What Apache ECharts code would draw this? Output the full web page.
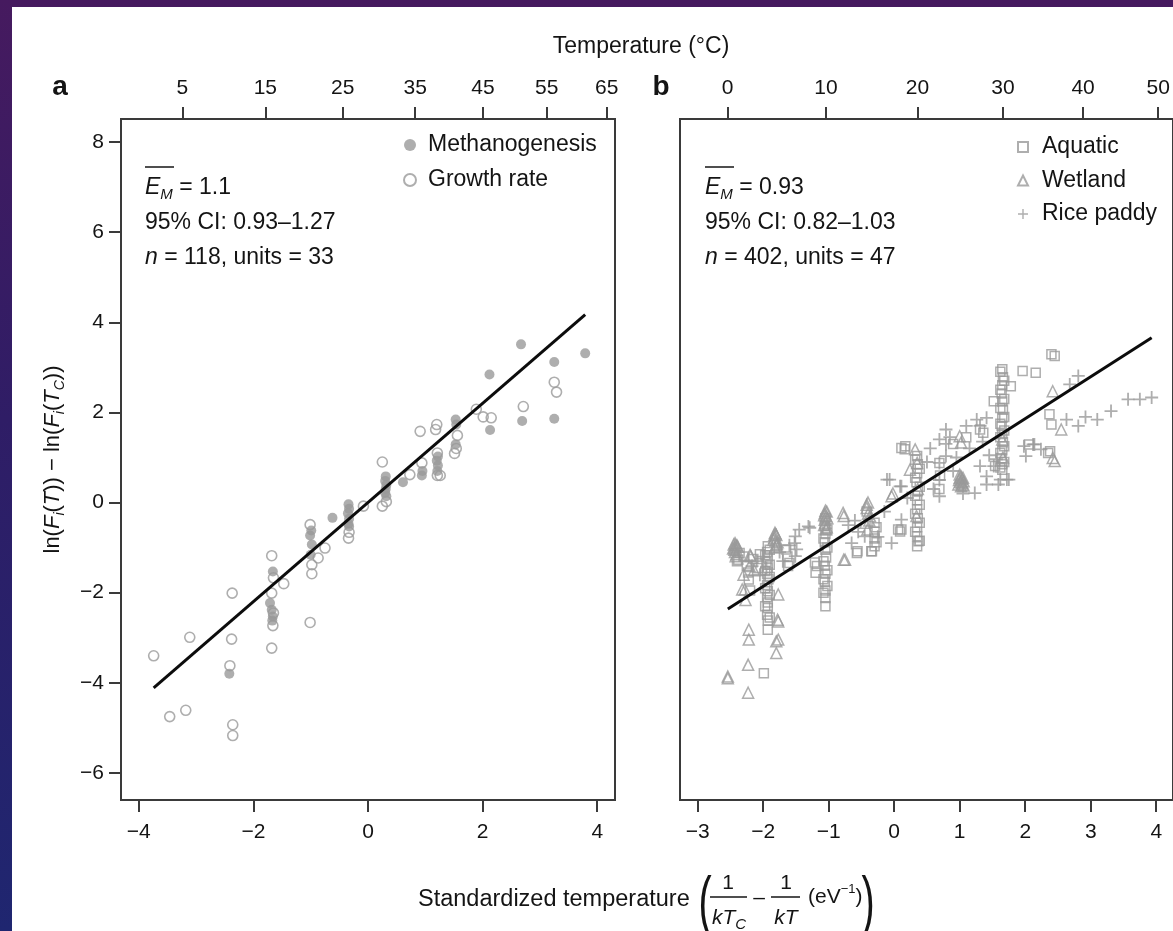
<!DOCTYPE html>
<html><head><meta charset="utf-8">
<script src="https://cdn.jsdelivr.net/npm/echarts@6/dist/echarts.min.js"></script>
<style>
html,body{margin:0;padding:0;width:1173px;height:931px;overflow:hidden;
background:linear-gradient(180deg,#461a5f 0%,#2f1d66 45%,#1f2670 100%);}
#paper{position:absolute;left:12px;top:7px;width:1161px;height:924px;background:#fff;}
#chart{position:absolute;left:0;top:0;width:1173px;height:931px;}
</style></head><body><div id="paper"></div><div id="chart"></div>
<script>
// ---------- data ----------
const tempTicksA = [5, 15, 25, 35, 45, 55, 65];      // °C, top axis panel a
const tempTicksB = [0, 10, 20, 30, 40, 50];          // °C, top axis panel b
const stdTicksA = [-4, -2, 0, 2, 4];
const stdTicksB = [-3, -2, -1, 0, 1, 2, 3, 4];
const yTicks = [-6, -4, -2, 0, 2, 4, 6, 8];
const TcA = 301.56, TcB = 290.54;                    // reference temperatures (K)
const fitA = [1.10, 0.00], fitSpanA = [-3.74, 3.79]; // slope, intercept ; x-span
const fitB = [0.93, 0.00], fitSpanB = [-2.54, 3.93];

const methanogenesis = [
[-2.42,-3.80],
[-1.66,-1.53],[-1.68,-2.38],[-1.66,-2.53],[-1.71,-2.23],[-1.67,-2.62],
[-1.01,-0.73],[-0.98,-0.93],[-1.00,-1.16],[-0.99,-0.62],
[-0.62,-0.34],
[-0.34,-0.04],[-0.33,-0.14],[-0.35,-0.24],[-0.33,-0.36],[-0.34,-0.47],[-0.33,-0.53],
[0.31,0.58],[0.30,0.48],[0.32,0.39],[0.31,0.30],[0.30,0.22],[0.32,0.14],
[0.61,0.45],[0.94,0.60],[0.95,0.70],
[1.21,0.70],[1.22,0.82],[1.20,0.93],[1.22,1.02],
[1.53,1.84],[1.54,1.73],[1.53,1.29],
[2.12,2.84],[2.13,1.61],
[2.67,3.51],[2.69,1.81],
[3.25,3.12],[3.25,1.86],
[3.79,3.31]
];
const growthRate = [
[-3.74,-3.40],[-3.46,-4.75],[-3.18,-4.61],[-3.11,-2.99],
[-2.37,-2.01],[-2.38,-3.03],[-2.41,-3.62],[-2.36,-4.93],[-2.36,-5.17],
[-1.68,-1.18],[-1.65,-1.67],[-1.47,-1.80],[-1.68,-2.01],[-1.66,-2.73],[-1.68,-3.23],[-1.65,-2.45],
[-1.01,-0.49],[-0.75,-1.01],[-0.87,-1.23],[-0.98,-1.38],[-0.98,-1.58],[-1.01,-2.66],
[-0.34,-0.79],[-0.33,-0.66],[-0.08,-0.08],
[0.25,0.90],[0.25,-0.08],[0.32,0.02],
[0.73,0.62],[0.94,0.88],[0.91,1.58],[1.20,1.73],[1.18,1.62],[1.26,0.60],[1.21,1.10],[1.21,0.60],
[1.56,1.49],[1.51,1.09],[1.54,1.20],
[1.89,2.07],[2.01,1.90],[2.15,1.88],
[2.71,2.13],[3.25,2.67],[3.29,2.45]
];
const aquatic = [
[-2.40,-1.30],[-2.38,-1.27],[-2.36,-1.12],[-2.22,-1.71],[-2.23,-1.55],[-2.20,-1.95],[-2.15,-1.25],
[-2.30,-1.20],[-2.25,-1.40],[-2.05,-1.15],[-2.08,-1.45],
[-1.93,-0.97],[-1.94,-1.10],[-1.93,-1.22],[-1.95,-1.32],[-1.93,-1.45],[-1.94,-1.58],[-1.92,-1.70],[-1.94,-1.83],[-1.93,-1.97],[-1.94,-2.10],[-1.93,-2.22],[-1.93,-2.34],[-1.94,-2.49],[-1.93,-2.62],[-1.93,-2.82],
[-1.90,-1.05],[-1.97,-1.17],[-1.90,-1.38],[-1.97,-1.52],[-1.90,-1.65],[-1.97,-1.90],[-1.90,-2.05],[-1.97,-2.30],[-1.90,-2.55],
[-1.99,-3.79],
[-1.65,-1.04],[-1.60,-1.34],[-1.63,-1.20],[-1.62,-1.41],
[-1.21,-1.33],[-1.18,-1.41],[-1.20,-1.56],
[-1.05,-0.35],[-1.06,-0.52],[-1.05,-0.70],[-1.06,-0.88],[-1.05,-1.05],[-1.04,-1.22],[-1.06,-1.40],[-1.05,-1.58],[-1.06,-1.76],[-1.05,-1.95],[-1.05,-2.12],[-1.05,-2.30],
[-1.02,-0.60],[-1.08,-0.80],[-1.02,-1.00],[-1.08,-1.30],[-1.02,-1.50],[-1.08,-1.70],[-1.02,-1.85],[-1.08,-2.00],
[-0.57,-1.12],[-0.56,-1.08],[-0.35,-1.08],[-0.34,-1.08],[-0.42,-0.20],[-0.30,-0.45],[-0.30,-0.65],[-0.30,-0.80],[-0.30,-0.97],[-0.27,-0.55],[-0.27,-0.88],
[0.06,-0.60],[0.11,-0.60],[0.09,-0.64],[0.37,-0.86],[0.11,1.21],[0.17,1.25],[0.16,1.18],
[0.35,1.03],[0.36,0.85],[0.35,0.65],[0.34,0.45],[0.36,0.25],[0.35,0.05],[0.35,-0.15],[0.36,-0.35],[0.35,-0.55],[0.35,-0.75],[0.35,-0.97],
[0.32,0.95],[0.39,0.75],[0.32,0.55],[0.39,0.35],[0.32,0.15],[0.39,-0.05],[0.32,-0.25],[0.39,-0.45],[0.32,-0.65],[0.39,-0.85],
[0.69,0.88],[0.70,0.60],[0.69,0.30],[0.90,1.30],[1.10,1.45],[1.31,1.62],[1.36,1.55],
[1.65,2.96],[1.66,2.78],[1.65,2.60],[1.64,2.42],[1.65,2.24],[1.66,2.06],[1.65,1.88],[1.64,1.70],[1.65,1.52],[1.66,1.34],[1.65,1.16],[1.64,0.98],[1.65,0.85],[1.65,0.73],
[1.62,2.90],[1.68,2.70],[1.62,2.50],[1.68,2.30],[1.62,2.10],[1.68,1.90],[1.62,1.75],[1.68,1.60],[1.62,1.45],[1.68,1.25],[1.62,1.10],[1.68,0.90],[1.62,0.78],
[1.52,2.25],[1.54,0.81],[1.78,2.58],
[1.96,2.92],[2.16,2.88],[2.40,3.29],[2.45,3.25],[2.37,1.96],[2.40,1.73],[2.06,1.29],[2.35,1.10],[2.38,1.14]
];
const wetland = [
[-2.43,-0.90],[-2.42,-0.95],[-2.44,-1.00],[-2.41,-1.04],[-2.43,-1.10],[-2.42,-1.19],[-2.45,-0.93],
[-2.40,-0.95],[-2.44,-1.05],[-2.41,-1.15],[-2.39,-0.98],[-2.46,-1.02],
[-2.20,-1.16],[-2.19,-1.19],[-2.21,-1.41],[-2.28,-1.93],[-2.32,-1.93],[-2.27,-2.16],[-2.30,-1.60],[-2.14,-1.50],
[-2.22,-2.82],[-2.22,-3.04],[-2.23,-3.60],[-2.23,-4.22],[-2.54,-3.86],[-2.54,-3.90],
[-1.77,-2.04],[-1.78,-2.60],[-1.77,-2.64],[-1.80,-3.08],[-1.80,-3.34],[-1.77,-3.04],
[-1.82,-0.67],[-1.80,-0.72],[-1.83,-0.78],[-1.81,-0.85],[-1.79,-0.92],[-1.82,-1.00],
[-1.81,-0.70],[-1.84,-0.82],[-1.78,-0.88],[-1.80,-0.95],[-1.83,-0.72],
[-1.05,-0.18],[-1.06,-0.24],[-1.04,-0.30],[-1.06,-0.38],[-1.05,-0.45],[-1.04,-0.60],
[-1.03,-0.20],[-1.07,-0.28],[-1.02,-0.35],[-1.07,-0.50],[-1.03,-0.55],
[-0.78,-0.23],[-0.77,-0.30],[-0.75,-1.27],[-0.77,-1.27],
[-0.40,0.00],[-0.42,-0.12],[-0.40,-0.25],[-0.38,-0.40],[-0.41,-0.60],[-0.42,-0.05],[-0.37,-0.30],[-0.44,-0.45],
[-0.04,0.14],[-0.02,0.20],
[0.24,0.73],[0.32,1.18],[0.35,0.88],[0.36,0.30],[0.34,-0.30],
[1.02,0.58],[1.03,0.52],[1.01,0.46],[1.04,0.40],[1.02,0.36],[0.99,0.50],[1.06,0.47],
[1.00,0.55],[1.05,0.55],[1.03,0.44],[0.98,0.40],[1.06,0.38],[1.00,0.62],
[1.00,1.47],[1.02,1.33],[1.65,1.40],[1.66,1.00],
[2.42,2.47],[2.55,1.62],[2.42,0.99],[2.45,0.92]
];
const ricePaddy = [
[-2.17,-1.41],[-2.10,-1.30],[-2.05,-1.60],[-2.00,-1.20],[-1.95,-1.45],[-1.75,-1.10],[-1.70,-1.30],
[-1.51,-0.75],[-1.52,-0.90],[-1.49,-1.04],[-1.51,-1.19],[-1.31,-0.53],[-1.29,-0.56],[-1.45,-0.60],[-1.60,-0.95],
[-0.60,-0.40],[-0.55,-0.65],[-0.65,-0.90],[-0.45,-0.75],[-0.70,-0.50],
[-0.11,0.51],[-0.07,0.51],[0.09,0.36],[0.11,0.36],[-0.04,-0.90],[0.11,-0.38],[-0.25,-0.76],[-0.15,-0.20],[0.20,0.10],
[0.69,1.40],[0.79,1.62],[0.79,1.30],[0.79,1.03],[0.69,0.88],[0.69,0.50],[0.69,0.14],
[0.50,0.90],[0.55,1.20],[0.60,0.30],[0.85,1.45],[0.90,0.70],[0.95,1.00],
[1.10,1.70],[1.31,1.70],[1.41,1.88],[1.26,1.84],[1.15,1.20],[1.35,1.35],[1.45,1.05],
[1.23,0.21],[1.41,0.40],[1.59,0.40],[1.72,0.51],[1.31,0.81],[1.41,0.58],[1.52,0.81],[1.62,0.51],[1.75,0.51],[1.56,0.96],[1.05,0.20],
[1.98,1.25],[2.14,1.29],[2.24,1.18],[2.01,1.03],[2.12,1.29],
[2.68,2.62],[2.81,2.81],
[2.63,1.84],[2.81,1.70],[2.92,1.90],[3.10,1.84],[3.31,2.03],[3.57,2.29],[3.75,2.29],[3.93,2.33]
];

// ---------- helpers ----------
const FONT = '"Liberation Sans", Arial, Helvetica, sans-serif';
const INK = '#141414';
const AXIS = '#3a3a3a';
const PT = '#9a9a9a';
const kB = 8.617e-5;
const toStd = (tC, Tc) => 1 / (kB * Tc) - 1 / (kB * (tC + 273.15));
const minus = v => (v < 0 ? '\u2212' + Math.abs(v) : String(v));
const nearestTemp = (ticks, Tc) => v => {
  let best = ticks[0];
  ticks.forEach(t => { if (Math.abs(toStd(t, Tc) - v) < Math.abs(toStd(best, Tc) - v)) best = t; });
  return String(best);
};
const fitLine = (fit, span) => span.map(x => [x, fit[0] * x + fit[1]]);
const PLUS = 'path://M4.3,0H5.7V4.3H10V5.7H5.7V10H4.3V5.7H0V4.3H4.3Z';

const tickStyle = { length: 12, lineStyle: { color: AXIS, width: 2 } };
const labelBase = { fontSize: 21, fontFamily: FONT, color: INK };

function xAx(grid, pos, range, vals, fmt, margin) {
  return {
    gridIndex: grid, type: 'value', position: pos, min: range[0], max: range[1],
    axisLine: { show: false, onZero: false }, splitLine: { show: false },
    axisTick: Object.assign({ customValues: vals }, tickStyle),
    axisLabel: Object.assign({ customValues: vals, formatter: fmt, margin: margin }, labelBase)
  };
}
const rangeA = [-4.31, 4.31], rangeB = [-3.27, 4.256], rangeY = [-6.6, 8.51];

const richT = (sz) => ({
  n: { fontSize: sz, fontFamily: FONT, fill: INK, lineHeight: 28 },
  i: { fontSize: sz, fontFamily: FONT, fill: INK, fontStyle: 'italic', lineHeight: 28 },
  s: { fontSize: 15, fontFamily: FONT, fill: INK, fontStyle: 'italic', lineHeight: 14, verticalAlign: 'bottom' },
  u: { fontSize: 13, fontFamily: FONT, fill: INK, lineHeight: 12, verticalAlign: 'top' }
});
const txt = (x, y, text, opts, extra) => Object.assign({
  type: 'text', x: x, y: y, silent: true,
  style: Object.assign({ text: text, fontSize: 23, fontFamily: FONT, fill: INK, align: 'left', verticalAlign: 'middle', rich: richT(23) }, opts || {})
}, extra || {});
const ln = (x1, y1, x2, y2, w) => ({ type: 'line', silent: true, shape: { x1, y1, x2, y2 }, style: { stroke: INK, lineWidth: w || 1.5 } });

const graphics = [
  txt(60, 87, 'a', { fontSize: 28, fontWeight: 'bold', align: 'center' }),
  txt(661, 87, 'b', { fontSize: 28, fontWeight: 'bold', align: 'center' }),
  txt(641, 47, 'Temperature (°C)', { fontSize: 23, align: 'center' }),
  // panel a annotation
  txt(145, 188, '{i|E}{s|M}{n| = 1.1}'),
  ln(145, 167, 174, 167),
  txt(145, 223, '95% CI: 0.93\u20131.27'),
  txt(145, 258, '{i|n}{n| = 118, units = 33}'),
  // panel b annotation
  txt(705, 188, '{i|E}{s|M}{n| = 0.93}'),
  ln(705, 167, 734, 167),
  txt(705, 223, '95% CI: 0.82\u20131.03'),
  txt(705, 258, '{i|n}{n| = 402, units = 47}'),
  // bottom title
  txt(418, 900, 'Standardized temperature', { fontSize: 23.5 }),
  txt(705, 905, '(', { fontSize: 66, align: 'center' }, { scaleX: 0.6 }),
  txt(728, 883, '1', { fontSize: 21, align: 'center' }),
  ln(710, 897, 747, 897),
  txt(729, 918, '{i|kT}{s|C}', { fontSize: 21, align: 'center', rich: richT(21) }),
  txt(759, 898, '\u2013', { fontSize: 21, align: 'center' }),
  txt(786, 883, '1', { fontSize: 21, align: 'center' }),
  ln(771, 897, 800, 897),
  txt(786, 918, '{i|kT}', { fontSize: 21, align: 'center', rich: richT(21) }),
  txt(808, 897, '{n|(eV}{u|\u22121}{n|)}', { fontSize: 21, rich: richT(21) }),
  txt(868, 905, ')', { fontSize: 66, align: 'center' }, { scaleX: 0.6 })
];

const option = {
  animation: false,
  backgroundColor: 'transparent',
  textStyle: { fontFamily: FONT },
  grid: [
    { left: 121, top: 119, width: 494, height: 681, show: true, borderColor: AXIS, borderWidth: 2, backgroundColor: 'transparent' },
    { left: 680, top: 119, width: 493, height: 681, show: true, borderColor: AXIS, borderWidth: 2, backgroundColor: 'transparent' }
  ],
  xAxis: [
    xAx(0, 'bottom', rangeA, stdTicksA, minus, 22),
    xAx(0, 'top', rangeA, tempTicksA.map(t => toStd(t, TcA)), nearestTemp(tempTicksA, TcA), 20),
    xAx(1, 'bottom', rangeB, stdTicksB, minus, 22),
    xAx(1, 'top', rangeB, tempTicksB.map(t => toStd(t, TcB)), nearestTemp(tempTicksB, TcB), 20)
  ],
  yAxis: [
    {
      gridIndex: 0, type: 'value', position: 'left', min: rangeY[0], max: rangeY[1],
      axisLine: { show: false, onZero: false }, splitLine: { show: false },
      axisTick: Object.assign({ customValues: yTicks }, tickStyle),
      axisLabel: Object.assign({ customValues: yTicks, formatter: minus, margin: 17 }, labelBase),
      name: '{n|ln(}{i|F}{s|i}{n|(}{i|T}{n|)) \u2212 ln(}{i|F}{s|i}{n|(}{i|T}{s|C}{n|))}',
      nameLocation: 'middle', nameRotate: 90, nameGap: 54,
      nameTextStyle: {
        fontSize: 22, fontFamily: FONT, color: INK,
        rich: {
          n: { fontSize: 22, fontFamily: FONT, color: INK, lineHeight: 28 },
          i: { fontSize: 22, fontFamily: FONT, color: INK, fontStyle: 'italic', lineHeight: 28 },
          s: { fontSize: 14, fontFamily: FONT, color: INK, fontStyle: 'italic', lineHeight: 14, verticalAlign: 'bottom' }
        }
      }
    },
    {
      gridIndex: 1, type: 'value', position: 'left', min: rangeY[0], max: rangeY[1],
      axisLine: { show: false, onZero: false }, splitLine: { show: false },
      axisTick: { show: false }, axisLabel: { show: false }
    }
  ],
  legend: [
    {
      data: ['Methanogenesis', 'Growth rate'], orient: 'vertical', left: 398, top: 127,
      itemWidth: 12, itemHeight: 12, itemGap: 9, selectedMode: false,
      textStyle: { fontSize: 23, fontFamily: FONT, color: INK, lineHeight: 26, padding: [0, 0, 0, 7] }
    },
    {
      data: ['Aquatic', 'Wetland', 'Rice paddy'], orient: 'vertical', left: 1012, top: 129,
      itemWidth: 10, itemHeight: 10, itemGap: 7.5, selectedMode: false,
      textStyle: { fontSize: 23, fontFamily: FONT, color: INK, lineHeight: 26, padding: [0, 0, 0, 9] }
    }
  ],
  series: [
    { type: 'scatter', name: 'Methanogenesis', xAxisIndex: 0, yAxisIndex: 0, data: methanogenesis,
      symbol: 'circle', symbolSize: 10, itemStyle: { color: PT }, silent: true, z: 3 },
    { type: 'scatter', name: 'Growth rate', xAxisIndex: 0, yAxisIndex: 0, data: growthRate,
      symbol: 'circle', symbolSize: 10, itemStyle: { color: 'rgba(255,255,255,0)', borderColor: PT, borderWidth: 1.6 }, silent: true, z: 3 },
    { type: 'line', xAxisIndex: 0, yAxisIndex: 0, data: fitLine(fitA, fitSpanA), symbol: 'none',
      lineStyle: { color: '#0c0c0c', width: 3 }, silent: true, z: 5 },
    { type: 'scatter', name: 'Aquatic', xAxisIndex: 2, yAxisIndex: 1, data: aquatic,
      symbol: 'rect', symbolSize: 9, itemStyle: { color: 'rgba(255,255,255,0)', borderColor: PT, borderWidth: 1.5 }, silent: true, z: 3 },
    { type: 'scatter', name: 'Wetland', xAxisIndex: 2, yAxisIndex: 1, data: wetland,
      symbol: 'triangle', symbolSize: 11, itemStyle: { color: 'rgba(255,255,255,0)', borderColor: PT, borderWidth: 1.5 }, silent: true, z: 3 },
    { type: 'scatter', name: 'Rice paddy', xAxisIndex: 2, yAxisIndex: 1, data: ricePaddy,
      symbol: PLUS, symbolSize: 13, itemStyle: { color: PT }, silent: true, z: 3 },
    { type: 'line', xAxisIndex: 2, yAxisIndex: 1, data: fitLine(fitB, fitSpanB), symbol: 'none',
      lineStyle: { color: '#0c0c0c', width: 3 }, silent: true, z: 5 }
  ],
  graphic: graphics
};

const chart = echarts.init(document.getElementById('chart'), null, { renderer: 'canvas', width: 1173, height: 931 });
chart.setOption(option);
</script></body></html>
